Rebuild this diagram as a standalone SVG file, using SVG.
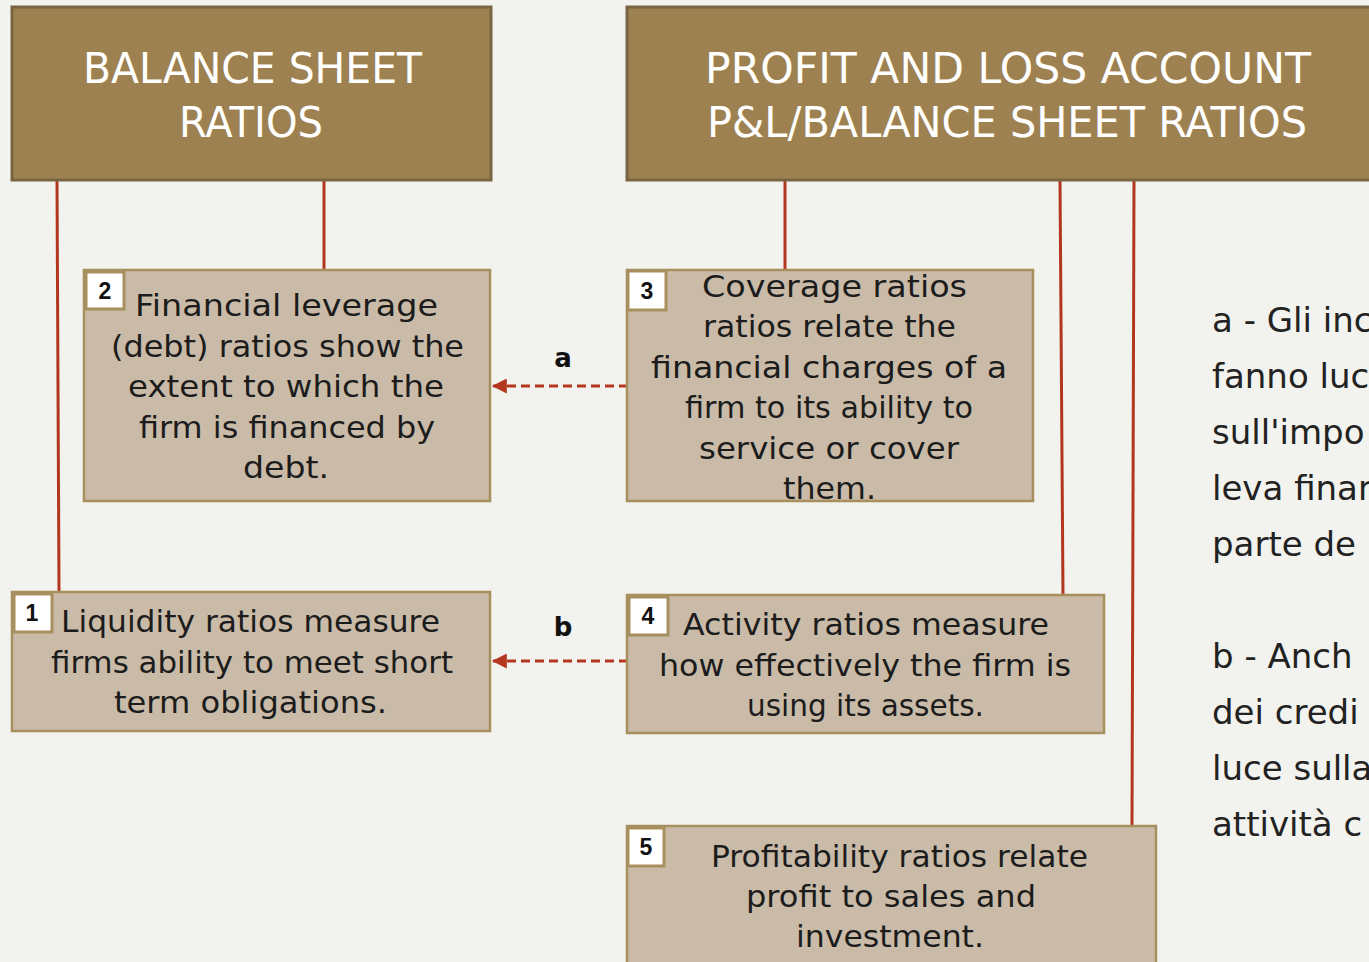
<svg xmlns="http://www.w3.org/2000/svg" width="1369" height="962" viewBox="0 0 1369 962">
<defs>
<style>
.hdr{fill:#9e8150;stroke:#7a6543;stroke-width:3}
.hdrt{font-family:"DejaVu Sans","Liberation Sans",sans-serif;font-size:42px;fill:#ffffff}
.box{fill:#c9bba8;stroke:#a88f5e;stroke-width:2.5}
.num{fill:#ffffff;stroke:#a88f5e;stroke-width:3}
.numt{font-family:"Liberation Sans",Arial,sans-serif;font-weight:bold;font-size:23px;fill:#111}
.bt{font-family:"DejaVu Sans","Liberation Sans",sans-serif;font-size:30px;fill:#1c1c1c}
.conn{stroke:#b3371f;stroke-width:3;fill:none}
.dash{stroke:#b3371f;stroke-width:3;fill:none;stroke-dasharray:9,5}
.lbl{font-family:"DejaVu Sans","Liberation Sans",sans-serif;font-weight:bold;font-size:26px;fill:#111}
.note{font-family:"DejaVu Sans","Open Sans",sans-serif;font-size:34px;fill:#222}
</style>
<marker id="ah" markerWidth="5" markerHeight="5" refX="4.6" refY="2.5" orient="auto" markerUnits="strokeWidth">
<path d="M0,0 L5,2.5 L0,5 Z" fill="#b3371f"/>
</marker>
</defs>
<rect width="1369" height="962" fill="#f2f2ee"/>

<g id="connectors">
<line class="conn" x1="57" y1="180" x2="59" y2="592"/>
<line class="conn" x1="324" y1="180" x2="324" y2="270"/>
<line class="conn" x1="785" y1="180" x2="785" y2="270"/>
<line class="conn" x1="1060" y1="180" x2="1063" y2="595"/>
<line class="conn" x1="1134" y1="180" x2="1132" y2="826"/>
<line class="dash" x1="628" y1="386" x2="493" y2="386" marker-end="url(#ah)"/>
<line class="dash" x1="628" y1="661" x2="493" y2="661" marker-end="url(#ah)"/>
<text class="lbl" x="563" y="367" text-anchor="middle">a</text>
<text class="lbl" x="563" y="636" text-anchor="middle">b</text>
</g>

<g id="header-balance">
<rect class="hdr" x="12" y="7" width="479" height="173"/>
<text class="hdrt" x="83" y="83" textLength="339" lengthAdjust="spacingAndGlyphs">BALANCE SHEET</text>
<text class="hdrt" x="179" y="137" textLength="144" lengthAdjust="spacingAndGlyphs">RATIOS</text>
</g>

<g id="header-pl">
<rect class="hdr" x="627" y="7" width="760" height="173"/>
<text class="hdrt" x="705" y="83" textLength="606" lengthAdjust="spacingAndGlyphs">PROFIT AND LOSS ACCOUNT</text>
<text class="hdrt" x="707" y="137" textLength="600" lengthAdjust="spacingAndGlyphs">P&amp;L/BALANCE SHEET RATIOS</text>
</g>

<g id="node-2">
<rect class="box" x="84" y="270" width="406" height="231"/>
<rect class="num" x="86" y="272" width="38" height="37"/>
<text class="numt" x="105" y="299" text-anchor="middle">2</text>
<text class="bt" x="135" y="316" textLength="303" lengthAdjust="spacingAndGlyphs">Financial leverage</text>
<text class="bt" x="111" y="357" textLength="353" lengthAdjust="spacingAndGlyphs">(debt) ratios show the</text>
<text class="bt" x="128" y="397" textLength="316" lengthAdjust="spacingAndGlyphs">extent to which the</text>
<text class="bt" x="139" y="438" textLength="296" lengthAdjust="spacingAndGlyphs">firm is financed by</text>
<text class="bt" x="243" y="478" textLength="86" lengthAdjust="spacingAndGlyphs">debt.</text>
</g>

<g id="node-3">
<rect class="box" x="627" y="270" width="406" height="231"/>
<rect class="num" x="628" y="271" width="38" height="39"/>
<text class="numt" x="647" y="299" text-anchor="middle">3</text>
<text class="bt" x="702" y="297" textLength="265" lengthAdjust="spacingAndGlyphs">Coverage ratios</text>
<text class="bt" x="703" y="337" textLength="253" lengthAdjust="spacingAndGlyphs">ratios relate the</text>
<text class="bt" x="651" y="378" textLength="356" lengthAdjust="spacingAndGlyphs">financial charges of a</text>
<text class="bt" x="685" y="418" textLength="288" lengthAdjust="spacingAndGlyphs">firm to its ability to</text>
<text class="bt" x="699" y="459" textLength="260" lengthAdjust="spacingAndGlyphs">service or cover</text>
<text class="bt" x="783" y="499" textLength="93" lengthAdjust="spacingAndGlyphs">them.</text>
</g>

<g id="node-1">
<rect class="box" x="12" y="592" width="478" height="139"/>
<rect class="num" x="14" y="594" width="38" height="38"/>
<text class="numt" x="32" y="621" text-anchor="middle">1</text>
<text class="bt" x="61" y="632" textLength="379" lengthAdjust="spacingAndGlyphs">Liquidity ratios measure</text>
<text class="bt" x="51" y="673" textLength="402" lengthAdjust="spacingAndGlyphs">firms ability to meet short</text>
<text class="bt" x="114" y="713" textLength="273" lengthAdjust="spacingAndGlyphs">term obligations.</text>
</g>

<g id="node-4">
<rect class="box" x="627" y="595" width="477" height="138"/>
<rect class="num" x="629" y="597" width="39" height="38"/>
<text class="numt" x="648" y="624" text-anchor="middle">4</text>
<text class="bt" x="683" y="635" textLength="366" lengthAdjust="spacingAndGlyphs">Activity ratios measure</text>
<text class="bt" x="659" y="676" textLength="412" lengthAdjust="spacingAndGlyphs">how effectively the  firm is</text>
<text class="bt" x="747" y="716" textLength="237" lengthAdjust="spacingAndGlyphs">using its assets.</text>
</g>

<g id="node-5">
<rect class="box" x="627" y="826" width="529" height="150"/>
<rect class="num" x="628" y="828" width="36" height="38"/>
<text class="numt" x="646" y="855" text-anchor="middle">5</text>
<text class="bt" x="711" y="867" textLength="377" lengthAdjust="spacingAndGlyphs">Profitability ratios relate</text>
<text class="bt" x="746" y="907" textLength="290" lengthAdjust="spacingAndGlyphs">profit to sales and</text>
<text class="bt" x="796" y="947" textLength="188" lengthAdjust="spacingAndGlyphs">investment.</text>
</g>

<g id="notes">
<text class="note" x="1212" y="332">a - Gli inc</text>
<text class="note" x="1212" y="388">fanno luc</text>
<text class="note" x="1212" y="444">sull'impo</text>
<text class="note" x="1212" y="500">leva finan</text>
<text class="note" x="1212" y="556">parte de</text>
<text class="note" x="1212" y="668">b - Anch</text>
<text class="note" x="1212" y="724">dei credi</text>
<text class="note" x="1212" y="780">luce sulla</text>
<text class="note" x="1212" y="836">attività c</text>
</g>
</svg>
